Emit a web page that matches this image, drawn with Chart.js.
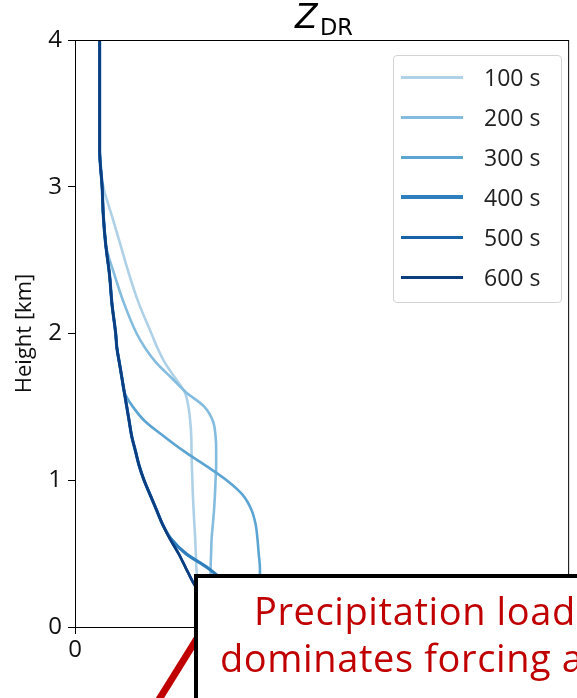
<!DOCTYPE html>
<html>
<head>
<meta charset="utf-8">
<script src="https://cdn.jsdelivr.net/npm/chart.js@4.4.1/dist/chart.umd.min.js"></script>
<style>
  html, body { margin: 0; padding: 0; background: #fff; overflow: hidden; }
  #wrap { position: relative; width: 577px; height: 698px; overflow: hidden; }
  #wrap canvas { position: absolute; left: 0; top: 0; }
  #legend {
    position: absolute; left: 393px; top: 55px; width: 167px; height: 246px;
    border: 1px solid #d4d4d4; border-radius: 4px; background: rgba(255,255,255,0.85);
    font-family: 'Open Sans', sans-serif; font-size: 23px; color: #222;
  }
  #legend .row { position: absolute; left: 0; width: 100%; height: 40px; }
  #legend .swatch { position: absolute; left: 7px; width: 62px; }
  #legend .lbl { position: absolute; left: 90px; top: 3px; line-height: 34px; }
  #pointer { position: absolute; left: 0; top: 0; }
  #note {
    position: absolute; left: 194px; top: 574px; width: 460px; height: 160px;
    border: 4px solid #000; background: #fff; color: #c00000;
    font-family: 'Open Sans', sans-serif; font-size: 38px; letter-spacing: 0.6px; white-space: nowrap;
  }
  #note div { position: absolute; line-height: 48px; }
</style>
</head>
<body>
<div id="wrap">
  <canvas id="chart" width="577" height="698"></canvas>
  <div id="legend"></div>
  <svg id="pointer" width="577" height="698">
    <line x1="155" y1="706" x2="201" y2="632" stroke="#c00000" stroke-width="7"/>
  </svg>
  <div id="note">
    <div style="left:56px; top:8px;">Precipitation loading</div>
    <div style="left:22px; top:55px;">dominates forcing at low levels</div>
  </div>
</div>
<script>
// profile heights (km), shared by every time step
const heights = [4.0, 3.5, 3.25, 3.0, 2.8, 2.6, 2.4, 2.2, 2.0, 1.9, 1.8, 1.7, 1.6, 1.5,
                 1.4, 1.3, 1.2, 1.1, 1.0, 0.9, 0.8, 0.7, 0.6, 0.5, 0.4, 0.3, 0.2, 0.1, 0.0];

// ZDR profiles (dB) at each output time
const zdr100 = [0.20, 0.20, 0.20, 0.23, 0.30, 0.37, 0.44, 0.52, 0.62, 0.67, 0.73, 0.81, 0.89, 0.92,
                0.935, 0.943, 0.945, 0.948, 0.952, 0.956, 0.962, 0.968, 0.975, 0.98, 0.985, 0.99, 0.99, 0.99, 0.99];
const zdr200 = [0.20, 0.20, 0.20, 0.22, 0.23, 0.25, 0.32, 0.40, 0.50, 0.57, 0.66, 0.78, 0.90, 1.05,
                1.12, 1.14, 1.145, 1.145, 1.14, 1.135, 1.128, 1.118, 1.108, 1.104, 1.10, 1.10, 1.10, 1.10, 1.10];
const zdr300 = [0.20, 0.20, 0.20, 0.22, 0.23, 0.25, 0.28, 0.30, 0.33, 0.34, 0.36, 0.38, 0.40, 0.47,
                0.57, 0.72, 0.88, 1.06, 1.23, 1.36, 1.43, 1.465, 1.48, 1.49, 1.50, 1.50, 1.50, 1.50, 1.50];
const zdr400 = [0.20, 0.20, 0.20, 0.22, 0.23, 0.25, 0.28, 0.30, 0.33, 0.34, 0.36, 0.38, 0.40, 0.42,
                0.44, 0.46, 0.49, 0.52, 0.56, 0.61, 0.66, 0.71, 0.78, 0.90, 1.08, 1.22, 1.30, 1.35, 1.38];
const zdr500 = [0.20, 0.20, 0.20, 0.22, 0.23, 0.25, 0.28, 0.30, 0.33, 0.34, 0.36, 0.38, 0.40, 0.42,
                0.44, 0.46, 0.49, 0.52, 0.56, 0.61, 0.66, 0.71, 0.77, 0.84, 0.90, 0.96, 1.03, 1.10, 1.18];
const zdr600 = [0.20, 0.20, 0.20, 0.22, 0.23, 0.25, 0.28, 0.30, 0.33, 0.34, 0.36, 0.38, 0.40, 0.42,
                0.44, 0.46, 0.49, 0.52, 0.56, 0.61, 0.66, 0.71, 0.77, 0.84, 0.90, 0.96, 1.03, 1.11, 1.20];

const timeLabels = ['100 s', '200 s', '300 s', '400 s', '500 s', '600 s'];
const profiles = [zdr100, zdr200, zdr300, zdr400, zdr500, zdr600];
const lineColors = ['#aed1e7', '#84bcdf', '#5ca4d2', '#2f7ebd', '#1761a9', '#0c3d80'];
const lineWidths = [2.6, 2.6, 2.6, 3.2, 2.6, 2.6];

const datasets = profiles.map((vals, i) => ({
  label: timeLabels[i],
  data: vals.map((v, k) => ({ x: v, y: heights[k] })),
  borderColor: lineColors[i],
  borderWidth: lineWidths[i],
  pointRadius: 0,
  cubicInterpolationMode: 'monotone',
  fill: false,
  order: profiles.length - i   // later times drawn on top
}));

// frame on all four sides plus the title with subscript
const framePlugin = {
  id: 'frame',
  afterDraw(chart) {
    const { ctx, chartArea: a } = chart;
    ctx.save();
    ctx.strokeStyle = '#000';
    ctx.lineWidth = 1;
    ctx.strokeRect(a.left + 0.5, a.top + 0.5, a.right - a.left, a.bottom - a.top);
    ctx.fillStyle = '#000';
    ctx.textBaseline = 'alphabetic';
    ctx.font = 'oblique 33px "DejaVu Sans"';
    ctx.fillText('Z', 295, 28);
    ctx.font = '22.5px "DejaVu Sans"';
    ctx.fillText('DR', 320, 35);
    ctx.restore();
  }
};

const tickFont = { family: 'Open Sans', size: 24 };

new Chart(document.getElementById('chart').getContext('2d'), {
  type: 'line',
  data: { datasets },
  plugins: [framePlugin],
  options: {
    indexAxis: 'y',
    responsive: false,
    animation: false,
    layout: { padding: { top: 40, right: 2, left: 0, bottom: 0 } },
    plugins: { legend: { display: false }, title: { display: false }, tooltip: { enabled: false } },
    scales: {
      x: {
        type: 'linear', position: 'bottom', min: 0, max: 4,
        ticks: { stepSize: 1, font: tickFont, color: '#111', padding: 2 },
        grid: { display: true, drawOnChartArea: false, tickLength: 7, tickColor: '#000' },
        border: { display: true, color: '#000', width: 1 },
        afterFit: s => { s.height = 71; }
      },
      y: {
        type: 'linear', position: 'left', min: 0, max: 4,
        ticks: { stepSize: 1, font: tickFont, color: '#111', padding: 6 },
        grid: { display: true, drawOnChartArea: false, tickLength: 7, tickColor: '#000' },
        border: { display: true, color: '#000', width: 1 },
        title: { display: true, text: 'Height [km]', font: { family: 'Open Sans', size: 22 }, color: '#111', padding: { top: 12, bottom: 0 } },
        afterFit: s => { s.width = 75; }
      }
    }
  }
});

// legend inside the axes, upper right
const legend = document.getElementById('legend');
timeLabels.forEach((t, i) => {
  const row = document.createElement('div');
  row.className = 'row';
  row.style.top = (1 + 40 * i) + 'px';
  const sw = document.createElement('div');
  sw.className = 'swatch';
  const h = lineWidths[i] > 3 ? 4.5 : 3;
  sw.style.height = h + 'px';
  sw.style.top = (20 - h / 2) + 'px';
  sw.style.background = lineColors[i];
  const lbl = document.createElement('div');
  lbl.className = 'lbl';
  lbl.textContent = t;
  row.appendChild(sw);
  row.appendChild(lbl);
  legend.appendChild(row);
});
</script>
</body>
</html>
